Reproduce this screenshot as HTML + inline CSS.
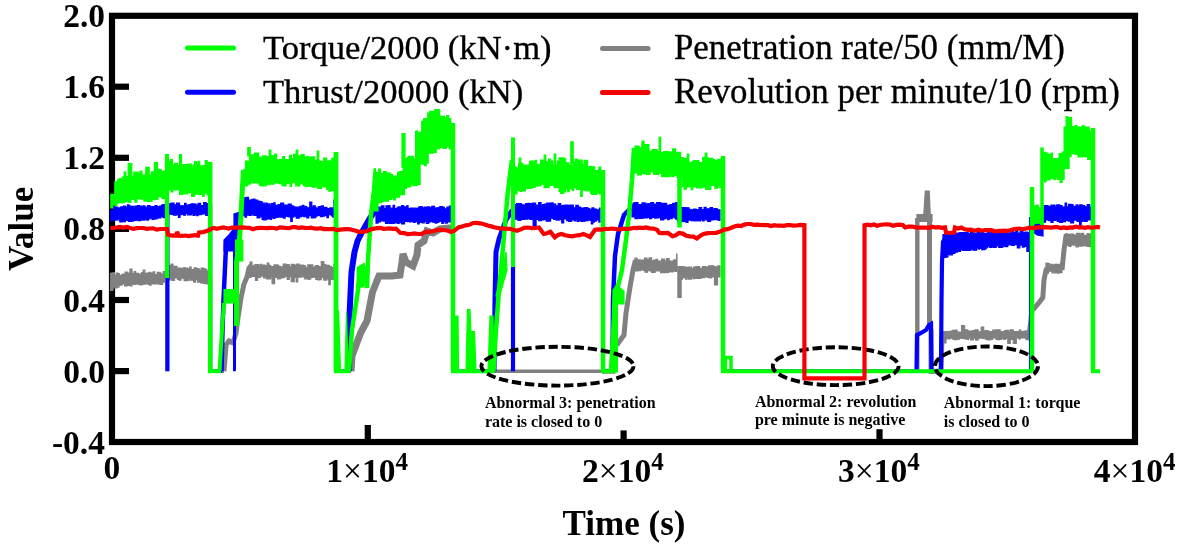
<!DOCTYPE html>
<html><head><meta charset="utf-8"><style>
html,body{margin:0;padding:0;background:#fff;width:1180px;height:546px;overflow:hidden}
svg{position:absolute;left:0;top:0;display:block;will-change:transform}
text{font-family:"Liberation Serif",serif;fill:#000}
.tk{font-weight:bold;font-size:33.5px}
.tm{font-weight:normal}
.sup{font-size:25px}
.lg{font-size:34.6px;stroke:#000;stroke-width:0.35px}
.an{font-weight:bold;font-size:16px}
.ti{font-weight:bold;font-size:35px}
</style></head><body>
<svg width="1180" height="546" viewBox="0 0 1180 546">
<rect width="1180" height="546" fill="#fff"/>

<rect x="112" y="15.8" width="1023" height="426.2" fill="none" stroke="#000" stroke-width="6.2"/>

<line x1="112" y1="86.7" x2="129" y2="86.7" stroke="#000" stroke-width="6.2"/>
<line x1="112" y1="157.8" x2="129" y2="157.8" stroke="#000" stroke-width="6.2"/>
<line x1="112" y1="228.9" x2="129" y2="228.9" stroke="#000" stroke-width="6.2"/>
<line x1="112" y1="300.0" x2="129" y2="300.0" stroke="#000" stroke-width="6.2"/>
<line x1="112" y1="371.1" x2="129" y2="371.1" stroke="#000" stroke-width="6.2"/>
<line x1="367.8" y1="442" x2="367.8" y2="425" stroke="#000" stroke-width="6.2"/>
<line x1="623.6" y1="442" x2="623.6" y2="430.4" stroke="#000" stroke-width="6.2"/>
<line x1="879.5" y1="442" x2="879.5" y2="429.2" stroke="#000" stroke-width="6.2"/>

<polygon points="110.5,273.4 112.0,273.4 112.0,272.8 114.5,272.8 114.5,275.2 116.5,275.2 116.5,273.1 118.0,273.1 118.0,273.6 119.5,273.6 119.6,275.5 121.6,275.5 121.6,274.5 123.1,274.5 123.1,274.1 125.1,274.1 125.1,272.0 127.6,272.0 127.6,273.0 130.1,273.0 130.1,273.2 131.6,273.2 131.6,273.3 134.1,273.3 134.1,271.6 135.6,271.6 135.6,273.4 138.6,273.4 138.6,274.0 141.6,274.0 141.6,272.5 143.6,272.5 143.7,273.7 146.2,273.7 146.2,273.1 149.2,273.1 149.2,272.3 150.7,272.3 150.7,273.0 153.2,273.0 153.2,271.8 154.7,271.8 154.7,274.6 157.2,274.6 157.2,272.4 160.2,272.4 160.2,273.3 161.7,273.3 161.7,274.6 163.2,274.6 163.2,271.5 166.0,271.5 166.0,283.0 165.7,283.0 165.7,282.2 162.7,282.2 162.7,284.5 159.7,284.5 159.7,283.8 157.2,283.8 157.2,283.9 155.2,283.9 155.2,284.0 152.7,284.0 152.7,283.5 151.2,283.5 151.2,285.2 149.7,285.2 149.7,284.4 148.2,284.4 148.1,283.9 145.1,283.9 145.1,284.2 142.1,284.2 142.1,284.8 140.6,284.8 140.6,284.7 138.6,284.7 138.6,283.9 136.1,283.9 136.1,284.5 133.6,284.5 133.6,283.7 132.1,283.7 132.1,285.8 130.1,285.8 130.1,285.3 127.1,285.3 127.1,285.8 124.6,285.8 124.6,283.9 122.1,283.9 122.0,285.2 119.0,285.2 119.0,287.2 117.0,287.2 117.0,287.8 115.0,287.8 115.0,287.8 113.0,287.8 113.0,290.5 110.5,290.5" fill="#808080" stroke="#808080" stroke-width="1.2" stroke-linejoin="miter"/>
<polygon points="130.0,275.0 130.0,269.0 132.0,269.0 132.0,275.0" fill="#808080" stroke="#808080" stroke-width="1.2" stroke-linejoin="miter"/>
<polygon points="143.2,275.0 143.2,270.0 144.8,270.0 144.8,275.0" fill="#808080" stroke="#808080" stroke-width="1.2" stroke-linejoin="miter"/>
<polyline points="167.0,280.0 167.0,371.2" fill="none" stroke="#808080" stroke-width="4" stroke-linejoin="miter" stroke-miterlimit="2" stroke-linecap="butt"/>
<polygon points="169.0,265.8 171.5,265.8 171.5,267.1 173.0,267.1 173.0,266.3 175.5,266.3 175.5,266.3 177.0,266.3 177.0,268.2 178.5,268.2 178.5,268.0 181.0,268.0 181.1,268.8 183.1,268.8 183.1,267.8 185.6,267.8 185.6,268.2 187.6,268.2 187.6,268.8 189.6,268.8 189.6,267.1 191.1,267.1 191.1,269.6 194.1,269.6 194.1,267.8 196.6,267.8 196.6,268.6 199.1,268.6 199.1,270.4 201.1,270.4 201.1,268.1 203.6,268.1 203.7,268.7 205.2,268.7 205.2,269.7 206.7,269.7 206.7,271.0 208.0,271.0 208.0,283.8 206.1,283.8 206.1,283.5 203.1,283.5 203.1,282.9 200.6,282.9 200.6,282.1 197.6,282.1 197.6,279.6 195.6,279.6 195.6,282.1 193.6,282.1 193.6,280.2 190.6,280.2 190.6,278.5 189.1,278.5 189.1,280.3 187.1,280.3 187.1,280.6 184.1,280.6 184.0,278.2 181.0,278.2 181.0,280.2 179.0,280.2 179.0,279.3 177.5,279.3 177.5,278.0 174.5,278.0 174.5,280.3 172.0,280.3 172.0,279.8 169.0,279.8" fill="#808080" stroke="#808080" stroke-width="1.2" stroke-linejoin="miter"/>
<polygon points="171.0,269.1 171.0,264.0 173.0,264.0 173.0,269.1" fill="#808080" stroke="#808080" stroke-width="1.2" stroke-linejoin="miter"/>
<polyline points="210.2,278.0 210.2,371.2" fill="none" stroke="#808080" stroke-width="4" stroke-linejoin="miter" stroke-miterlimit="2" stroke-linecap="butt"/>
<polyline points="210.0,371.2 224.0,371.2" fill="none" stroke="#808080" stroke-width="3.5" stroke-linejoin="miter" stroke-miterlimit="2" stroke-linecap="butt"/>
<polyline points="224.0,371.2 226.0,345.0 229.0,341.0 233.0,343.0 236.0,333.0 238.0,318.0 241.0,298.0 244.0,284.0 247.0,277.0 249.0,268.0 251.0,266.0" fill="none" stroke="#808080" stroke-width="5" stroke-linejoin="miter" stroke-miterlimit="2" stroke-linecap="butt"/>
<polygon points="249.0,265.1 250.5,265.1 250.5,266.3 252.0,266.3 252.0,266.0 254.0,266.0 254.0,265.0 255.5,265.0 255.5,264.5 258.5,264.5 258.5,266.1 260.0,266.1 260.1,264.3 261.6,264.3 261.6,265.2 263.1,265.2 263.1,265.0 265.1,265.0 265.1,265.9 268.1,265.9 268.1,265.3 270.6,265.3 270.6,266.7 272.6,266.7 272.6,266.5 274.1,266.5 274.1,264.9 276.1,264.9 276.1,265.1 278.6,265.1 278.6,266.4 280.6,266.4 280.7,266.9 283.2,266.9 283.2,264.2 286.2,264.2 286.2,264.5 289.2,264.5 289.2,266.8 291.2,266.8 291.2,264.3 294.2,264.3 294.2,265.0 296.7,265.0 296.7,264.1 299.2,264.1 299.2,265.8 300.7,265.8 300.7,265.2 303.2,265.2 303.2,265.7 305.2,265.7 305.3,267.3 307.8,267.3 307.8,264.9 309.8,264.9 309.8,264.9 312.8,264.9 312.8,267.0 315.3,267.0 315.3,265.5 318.3,265.5 318.3,266.5 319.8,266.5 319.8,266.9 321.3,266.9 321.3,261.6 323.8,261.6 323.8,264.4 325.3,264.4 325.3,265.1 326.8,265.1 326.9,265.4 329.4,265.4 329.4,266.4 331.4,266.4 331.4,267.5 333.9,267.5 333.9,264.4 334.0,264.4 334.0,278.2 333.4,278.2 333.3,279.4 330.3,279.4 330.3,284.6 328.8,284.6 328.8,279.0 326.8,279.0 326.8,280.1 323.8,280.1 323.8,277.5 321.3,277.5 321.3,279.6 319.3,279.6 319.3,279.9 317.8,279.9 317.8,279.3 315.8,279.3 315.8,277.1 312.8,277.1 312.8,277.4 310.8,277.4 310.7,279.2 307.7,279.2 307.7,278.8 304.7,278.8 304.7,277.0 302.7,277.0 302.7,276.8 300.7,276.8 300.7,277.1 297.7,277.1 297.7,281.8 296.2,281.8 296.2,277.4 294.2,277.4 294.2,281.7 291.2,281.7 291.2,276.6 289.2,276.6 289.2,279.3 287.2,279.3 287.1,276.4 284.6,276.4 284.6,277.7 281.6,277.7 281.6,278.1 280.1,278.1 280.1,278.8 277.6,278.8 277.6,277.4 274.6,277.4 274.6,283.7 272.1,283.7 272.1,277.2 270.6,277.2 270.6,278.9 268.6,278.9 268.6,278.8 266.6,278.8 266.6,277.8 263.6,277.8 263.5,276.1 260.5,276.1 260.5,277.3 257.5,277.3 257.5,280.4 255.5,280.4 255.5,276.4 253.0,276.4 253.0,276.4 251.0,276.4 251.0,277.4 249.0,277.4" fill="#808080" stroke="#808080" stroke-width="1.2" stroke-linejoin="miter"/>
<polygon points="250.0,267.0 250.0,262.0 252.0,262.0 252.0,267.0" fill="#808080" stroke="#808080" stroke-width="1.2" stroke-linejoin="miter"/>
<polygon points="267.2,267.2 267.2,263.0 268.8,263.0 268.8,267.2" fill="#808080" stroke="#808080" stroke-width="1.2" stroke-linejoin="miter"/>
<polyline points="336.0,270.0 336.0,371.2" fill="none" stroke="#808080" stroke-width="4" stroke-linejoin="miter" stroke-miterlimit="2" stroke-linecap="butt"/>
<polyline points="335.0,371.2 351.0,371.2" fill="none" stroke="#808080" stroke-width="3.5" stroke-linejoin="miter" stroke-miterlimit="2" stroke-linecap="butt"/>
<polyline points="351.0,371.2 352.0,356.0 356.0,345.0 361.0,332.0 367.0,321.0 370.0,305.0 372.5,292.0 376.5,282.0 379.0,276.0 392.0,276.0 400.0,275.0 402.0,262.0 403.0,254.0 406.0,262.0 413.0,266.0 417.0,255.0 418.0,245.0 424.0,241.0 427.0,231.0 433.0,233.0 440.0,229.0 449.0,228.0 452.0,228.0" fill="none" stroke="#808080" stroke-width="7" stroke-linejoin="miter" stroke-miterlimit="2" stroke-linecap="butt"/>
<polyline points="453.0,228.0 453.0,371.2" fill="none" stroke="#808080" stroke-width="4" stroke-linejoin="miter" stroke-miterlimit="2" stroke-linecap="butt"/>
<polyline points="452.0,371.2 602.0,371.2" fill="none" stroke="#808080" stroke-width="3.5" stroke-linejoin="miter" stroke-miterlimit="2" stroke-linecap="butt"/>
<polyline points="602.0,371.2 613.0,371.2 614.0,346.0 617.5,344.0 624.0,335.0 626.0,313.0 630.0,287.0 633.0,270.0 635.0,262.0 638.0,261.0" fill="none" stroke="#808080" stroke-width="5" stroke-linejoin="miter" stroke-miterlimit="2" stroke-linecap="butt"/>
<polygon points="635.0,258.2 637.0,258.2 637.0,259.8 640.0,259.8 640.0,260.2 642.5,260.2 642.5,260.0 644.5,260.0 644.5,258.0 647.0,258.0 647.0,259.7 649.0,259.7 649.1,257.9 651.6,257.9 651.6,260.8 653.6,260.8 653.6,260.0 656.1,260.0 656.1,259.4 657.6,259.4 657.6,261.0 660.1,261.0 660.1,261.0 661.6,261.0 661.6,259.0 664.6,259.0 664.6,261.2 666.6,261.2 666.6,258.5 669.1,258.5 669.1,261.2 671.6,261.2 671.7,261.0 673.7,261.0 673.7,259.9 676.7,259.9 676.7,254.0 677.0,254.0 677.0,271.5 675.7,271.5 675.7,271.1 673.2,271.1 673.1,271.8 671.1,271.8 671.1,271.7 668.6,271.7 668.6,272.3 665.6,272.3 665.6,272.7 663.6,272.7 663.6,272.6 660.6,272.6 660.6,270.8 657.6,270.8 657.6,270.9 655.1,270.9 655.1,272.3 653.1,272.3 653.1,272.3 651.6,272.3 651.6,271.0 649.1,271.0 649.0,270.2 647.5,270.2 647.5,272.2 645.0,272.2 645.0,270.3 643.5,270.3 643.5,269.9 640.5,269.9 640.5,270.7 638.0,270.7 638.0,270.8 635.0,270.8" fill="#808080" stroke="#808080" stroke-width="1.2" stroke-linejoin="miter"/>
<polyline points="679.5,266.0 679.5,298.0" fill="none" stroke="#808080" stroke-width="4.5" stroke-linejoin="miter" stroke-miterlimit="2" stroke-linecap="butt"/>
<polygon points="681.0,266.7 684.0,266.7 684.0,267.2 686.0,267.2 686.0,267.4 689.0,267.4 689.0,267.2 691.5,267.2 691.5,268.5 693.5,268.5 693.5,267.1 695.5,267.1 695.6,266.5 697.6,266.5 697.6,266.6 699.6,266.6 699.6,268.2 702.6,268.2 702.6,266.6 704.6,266.6 704.6,266.6 706.1,266.6 706.1,267.0 708.6,267.0 708.6,265.9 710.6,265.9 710.6,265.8 713.6,265.8 713.6,266.7 716.1,266.7 716.1,268.0 717.6,268.0 717.7,265.9 720.0,265.9 720.0,277.0 717.2,277.0 717.2,276.9 714.2,276.9 714.1,276.8 711.6,276.8 711.6,277.9 709.6,277.9 709.6,277.4 707.6,277.4 707.6,276.8 704.6,276.8 704.6,277.7 703.1,277.7 703.1,277.5 701.1,277.5 701.1,278.5 699.6,278.5 699.6,278.3 696.6,278.3 696.6,278.4 694.6,278.4 694.6,278.7 693.1,278.7 693.0,277.0 691.5,277.0 691.5,279.1 688.5,279.1 688.5,277.3 687.0,277.3 687.0,279.2 685.5,279.2 685.5,277.7 682.5,277.7 682.5,279.2 681.0,279.2" fill="#808080" stroke="#808080" stroke-width="1.2" stroke-linejoin="miter"/>
<polygon points="714.5,276.0 714.5,285.0 717.5,285.0 717.5,276.0" fill="#808080" stroke="#808080" stroke-width="1.2" stroke-linejoin="miter"/>
<polyline points="723.0,270.0 723.0,371.2" fill="none" stroke="#808080" stroke-width="4" stroke-linejoin="miter" stroke-miterlimit="2" stroke-linecap="butt"/>
<polyline points="721.0,371.2 918.0,371.2" fill="none" stroke="#808080" stroke-width="3.5" stroke-linejoin="miter" stroke-miterlimit="2" stroke-linecap="butt"/>
<polygon points="923.7,216.0 925.3,191.0 929.2,191.0 930.3,216.0" fill="#808080" stroke="#808080" stroke-width="1.2" stroke-linejoin="miter"/>
<polygon points="917.0,214.7 932.0,214.7 932.0,221.3 917.0,221.3" fill="#808080" stroke="#808080" stroke-width="1.2" stroke-linejoin="miter"/>
<polyline points="917.3,218.0 917.3,371.2" fill="none" stroke="#808080" stroke-width="4.4" stroke-linejoin="miter" stroke-miterlimit="2" stroke-linecap="butt"/>
<polyline points="929.5,218.0 929.5,324.0 931.0,330.0 931.0,371.2 941.0,371.2 942.0,336.0" fill="none" stroke="#808080" stroke-width="5" stroke-linejoin="miter" stroke-miterlimit="2" stroke-linecap="butt"/>
<polygon points="942.0,332.1 943.5,332.1 943.5,331.5 946.0,331.5 946.0,331.5 948.5,331.5 948.5,331.6 950.5,331.6 950.5,331.0 952.5,331.0 952.5,330.3 955.0,330.3 955.1,330.0 957.1,330.0 957.1,332.0 958.6,332.0 958.6,332.1 961.6,332.1 961.6,325.7 964.6,325.7 964.6,329.9 967.6,329.9 967.6,330.9 970.1,330.9 970.1,331.6 972.1,331.6 972.1,330.6 975.1,330.6 975.1,329.8 978.1,329.8 978.1,331.8 981.1,331.8 981.2,327.0 983.7,327.0 983.7,330.8 985.7,330.8 985.7,330.7 988.2,330.7 988.2,331.8 989.7,331.8 989.7,331.5 992.7,331.5 992.7,330.2 995.7,330.2 995.7,329.8 998.7,329.8 998.7,329.9 1000.2,329.9 1000.2,331.8 1002.2,331.8 1002.2,331.6 1004.7,331.6 1004.8,330.7 1006.3,330.7 1006.3,330.4 1008.8,330.4 1008.8,332.1 1010.3,332.1 1010.3,329.8 1013.3,329.8 1013.3,331.5 1016.3,331.5 1016.3,331.7 1019.3,331.7 1019.3,330.1 1020.8,330.1 1020.8,331.8 1022.8,331.8 1022.8,331.3 1025.3,331.3 1025.3,330.9 1026.8,330.9 1026.9,331.0 1028.9,331.0 1028.9,330.4 1029.0,330.4 1029.0,338.5 1028.4,338.5 1028.4,339.6 1025.9,339.6 1025.9,338.0 1023.4,338.0 1023.4,337.9 1020.4,337.9 1020.4,338.9 1018.9,338.9 1018.8,338.0 1016.3,338.0 1016.3,343.4 1013.3,343.4 1013.3,339.4 1010.3,339.4 1010.3,343.5 1007.8,343.5 1007.8,338.5 1005.3,338.5 1005.3,339.4 1003.8,339.4 1003.8,338.7 1001.3,338.7 1001.3,339.3 999.3,339.3 999.3,339.7 997.3,339.7 997.3,339.1 995.8,339.1 995.7,337.9 992.7,337.9 992.7,339.4 990.2,339.4 990.2,339.8 987.2,339.8 987.2,339.2 985.2,339.2 985.2,337.9 983.7,337.9 983.7,338.3 981.7,338.3 981.7,338.0 979.2,338.0 979.2,338.9 977.7,338.9 977.7,340.1 975.7,340.1 975.7,338.2 973.7,338.2 973.6,339.9 972.1,339.9 972.1,339.9 970.6,339.9 970.6,337.8 968.6,337.8 968.6,339.4 967.1,339.4 967.1,339.0 965.6,339.0 965.6,338.6 963.6,338.6 963.6,338.3 961.6,338.3 961.6,338.2 959.6,338.2 959.6,339.2 957.1,339.2 957.1,339.7 954.6,339.7 954.5,339.3 953.0,339.3 953.0,338.2 950.0,338.2 950.0,338.8 947.0,338.8 947.0,338.4 945.5,338.4 945.5,340.2 944.0,340.2 944.0,339.0 942.0,339.0" fill="#808080" stroke="#808080" stroke-width="1.2" stroke-linejoin="miter"/>
<polygon points="944.0,337.0 944.0,343.0 946.0,343.0 946.0,337.0" fill="#808080" stroke="#808080" stroke-width="1.2" stroke-linejoin="miter"/>
<polyline points="1029.0,335.0 1031.0,320.0 1032.0,310.0 1034.0,308.6 1039.5,302.0 1042.8,297.6 1044.0,280.0 1046.0,270.0 1047.0,268.0" fill="none" stroke="#808080" stroke-width="5" stroke-linejoin="miter" stroke-miterlimit="2" stroke-linecap="butt"/>
<polygon points="1046.0,263.0 1048.0,263.0 1048.0,263.5 1049.5,263.5 1049.5,265.2 1051.0,265.2 1051.0,264.3 1052.5,264.3 1052.5,265.0 1054.5,265.0 1054.5,264.4 1057.5,264.4 1057.6,264.3 1060.6,264.3 1060.6,263.2 1062.0,263.2 1062.0,272.7 1059.6,272.7 1059.5,273.1 1057.5,273.1 1057.5,272.8 1055.0,272.8 1055.0,272.8 1052.0,272.8 1052.0,271.1 1050.5,271.1 1050.5,271.2 1048.5,271.2 1048.5,273.1 1046.0,273.1" fill="#808080" stroke="#808080" stroke-width="1.2" stroke-linejoin="miter"/>
<polyline points="1062.0,270.0 1064.0,250.0 1066.0,236.0 1068.0,235.0" fill="none" stroke="#808080" stroke-width="5" stroke-linejoin="miter" stroke-miterlimit="2" stroke-linecap="butt"/>
<polygon points="1067.0,234.0 1068.5,234.0 1068.5,234.4 1070.5,234.4 1070.5,234.0 1073.5,234.0 1073.5,235.1 1076.5,235.1 1076.5,233.4 1079.5,233.4 1079.5,234.2 1081.0,234.2 1081.1,233.4 1083.6,233.4 1083.6,235.4 1085.1,235.4 1085.1,235.4 1087.1,235.4 1087.1,233.7 1088.6,233.7 1088.6,234.1 1091.0,234.1 1091.0,246.3 1090.6,246.3 1090.6,246.7 1089.1,246.7 1089.1,246.4 1087.1,246.4 1087.1,245.8 1084.6,245.8 1084.6,245.5 1082.6,245.5 1082.6,246.2 1080.6,246.2 1080.5,246.0 1078.5,246.0 1078.5,247.0 1076.0,247.0 1076.0,245.1 1073.5,245.1 1073.5,244.9 1071.0,244.9 1071.0,246.5 1069.0,246.5 1069.0,245.5 1067.0,245.5" fill="#808080" stroke="#808080" stroke-width="1.2" stroke-linejoin="miter"/>
<polyline points="1093.0,236.0 1093.0,371.2" fill="none" stroke="#808080" stroke-width="4" stroke-linejoin="miter" stroke-miterlimit="2" stroke-linecap="butt"/>
<polygon points="110.8,210.3 113.3,210.3 113.3,205.0 114.8,205.0 114.8,207.1 117.8,207.1 117.8,207.9 120.8,207.9 120.8,206.8 123.3,206.8 123.4,206.0 125.4,206.0 125.4,207.0 127.4,207.0 127.4,204.9 128.9,204.9 128.9,205.9 130.4,205.9 130.4,206.3 133.4,206.3 133.4,207.2 134.9,207.2 134.9,206.0 137.4,206.0 137.4,205.5 139.4,205.5 139.4,206.0 141.4,206.0 141.4,207.4 142.9,207.4 142.9,205.9 144.9,205.9 145.0,207.2 147.5,207.2 147.5,205.5 150.0,205.5 150.0,206.5 153.0,206.5 153.0,206.7 155.0,206.7 155.0,205.7 157.0,205.7 157.0,206.6 159.5,206.6 159.5,206.0 161.5,206.0 161.5,205.1 163.0,205.1 163.0,204.5 165.0,204.5 165.0,204.8 166.0,204.8 166.0,217.0 164.5,217.0 164.5,217.6 163.0,217.6 163.0,216.5 161.0,216.5 161.0,217.9 158.5,217.9 158.5,218.1 157.0,218.1 157.0,218.9 154.0,218.9 154.0,219.5 152.0,219.5 152.0,217.9 150.0,217.9 150.0,218.8 148.5,218.8 148.4,220.1 146.9,220.1 146.9,219.5 144.9,219.5 144.9,220.2 143.4,220.2 143.4,219.9 140.9,219.9 140.9,220.6 137.9,220.6 137.9,219.6 136.4,219.6 136.4,220.5 133.4,220.5 133.4,221.1 131.4,221.1 131.4,221.4 128.4,221.4 128.4,220.3 125.4,220.3 125.4,221.7 122.4,221.7 122.3,221.9 119.8,221.9 119.8,219.8 116.8,219.8 116.8,220.1 115.3,220.1 115.3,219.6 112.8,219.6 112.8,220.9 110.8,220.9" fill="#0000ff" stroke="#0000ff" stroke-width="1.2" stroke-linejoin="miter"/>
<polyline points="167.5,206.0 167.5,371.2" fill="none" stroke="#0000ff" stroke-width="4" stroke-linejoin="miter" stroke-miterlimit="2" stroke-linecap="butt"/>
<polygon points="169.5,203.8 171.0,203.8 171.0,203.0 174.0,203.0 174.0,204.8 176.5,204.8 176.5,203.2 179.5,203.2 179.5,205.7 181.5,205.7 181.5,205.8 184.5,205.8 184.6,203.4 186.1,203.4 186.1,205.2 189.1,205.2 189.1,204.7 191.1,204.7 191.1,203.8 194.1,203.8 194.1,204.1 196.1,204.1 196.1,205.0 198.1,205.0 198.1,203.4 200.6,203.4 200.6,205.5 203.6,205.5 203.6,202.6 206.1,202.6 206.1,203.6 208.0,203.6 208.0,215.4 205.7,215.4 205.7,213.8 202.7,213.8 202.7,214.1 201.2,214.1 201.1,214.7 198.1,214.7 198.1,215.7 196.6,215.7 196.6,214.8 194.6,214.8 194.6,215.3 193.1,215.3 193.1,213.7 191.6,213.7 191.6,215.0 189.1,215.0 189.1,214.8 187.6,214.8 187.6,213.5 185.6,213.5 185.6,215.2 183.6,215.2 183.6,214.5 181.6,214.5 181.5,214.7 180.0,214.7 180.0,217.3 178.5,217.3 178.5,215.0 176.0,215.0 176.0,215.2 173.5,215.2 173.5,214.5 171.0,214.5 171.0,213.9 169.5,213.9" fill="#0000ff" stroke="#0000ff" stroke-width="1.2" stroke-linejoin="miter"/>
<polyline points="210.2,204.0 210.2,371.2" fill="none" stroke="#0000ff" stroke-width="4" stroke-linejoin="miter" stroke-miterlimit="2" stroke-linecap="butt"/>
<polyline points="209.0,371.2 222.0,371.2" fill="none" stroke="#0000ff" stroke-width="3.5" stroke-linejoin="miter" stroke-miterlimit="2" stroke-linecap="butt"/>
<polyline points="221.5,371.2 222.5,330.0 223.5,300.0 225.8,251.0 226.0,244.0" fill="none" stroke="#0000ff" stroke-width="4.5" stroke-linejoin="miter" stroke-miterlimit="2" stroke-linecap="butt"/>
<polygon points="224.0,251.0 224.0,240.0 228.0,236.0 232.0,231.0 234.0,226.0 234.0,214.0 240.0,212.0 244.0,200.0 244.0,206.0 239.6,226.0 236.0,240.0 236.0,251.0" fill="#0000ff" stroke="#0000ff" stroke-width="1.2" stroke-linejoin="miter"/>
<polyline points="234.5,371.2 234.5,282.0 234.5,240.0" fill="none" stroke="#0000ff" stroke-width="3" stroke-linejoin="miter" stroke-miterlimit="2" stroke-linecap="butt"/>
<polygon points="243.0,198.7 244.5,198.7 244.5,197.9 246.0,197.9 246.0,197.3 248.5,197.3 248.5,200.1 251.5,200.1 251.5,199.5 253.0,199.5 253.0,199.0 255.0,199.0 255.1,200.1 257.6,200.1 257.6,201.0 259.6,201.0 259.6,201.5 262.1,201.5 262.1,203.2 264.6,203.2 264.6,203.2 267.1,203.2 267.1,203.9 269.6,203.9 269.6,205.6 271.1,205.6 271.1,203.5 273.6,203.5 273.6,202.9 275.1,202.9 275.1,205.3 278.1,205.3 278.2,204.6 280.7,204.6 280.7,203.2 283.7,203.2 283.7,205.1 286.7,205.1 286.7,205.3 288.2,205.3 288.2,204.0 291.2,204.0 291.2,205.8 293.2,205.8 293.2,206.8 294.7,206.8 294.7,207.1 297.2,207.1 297.2,207.2 299.7,207.2 299.7,206.4 302.2,206.4 302.3,205.3 303.8,205.3 303.8,206.3 305.3,206.3 305.3,206.7 306.8,206.7 306.8,207.8 309.8,207.8 309.8,202.0 311.8,202.0 311.8,207.1 313.3,207.1 313.3,205.8 315.3,205.8 315.3,207.8 316.8,207.8 316.8,208.0 318.3,208.0 318.3,206.5 321.3,206.5 321.4,205.9 323.4,205.9 323.4,207.5 324.9,207.5 324.9,207.3 326.9,207.3 326.9,208.7 329.9,208.7 329.9,207.9 332.4,207.9 332.4,209.4 333.9,209.4 333.9,200.2 334.0,200.2 334.0,217.1 332.9,217.1 332.9,216.0 331.4,216.0 331.4,214.7 328.4,214.7 328.4,217.6 326.9,217.6 326.9,215.5 324.9,215.5 324.8,216.1 322.8,216.1 322.8,216.7 320.3,216.7 320.3,215.4 317.3,215.4 317.3,216.2 315.8,216.2 315.8,217.6 314.3,217.6 314.3,217.9 311.3,217.9 311.3,215.6 308.8,215.6 308.8,217.8 306.8,217.8 306.8,216.6 303.8,216.6 303.8,216.1 301.3,216.1 301.2,217.0 299.2,217.0 299.2,218.2 296.2,218.2 296.2,216.2 293.7,216.2 293.7,217.1 292.2,217.1 292.2,221.4 290.7,221.4 290.7,216.9 288.2,216.9 288.2,216.5 285.2,216.5 285.2,218.1 283.2,218.1 283.2,217.1 280.2,217.1 280.2,217.1 277.2,217.1 277.1,217.4 275.1,217.4 275.1,218.4 273.6,218.4 273.6,217.8 271.6,217.8 271.6,219.4 270.1,219.4 270.1,218.3 268.1,218.3 268.1,219.1 266.1,219.1 266.1,219.8 263.6,219.8 263.6,219.4 262.1,219.4 262.1,216.8 259.6,216.8 259.6,217.8 257.1,217.8 257.0,215.3 254.0,215.3 254.0,214.8 251.0,214.8 251.0,215.3 249.5,215.3 249.5,215.1 246.5,215.1 246.5,217.2 245.0,217.2 245.0,215.7 243.0,215.7" fill="#0000ff" stroke="#0000ff" stroke-width="1.2" stroke-linejoin="miter"/>
<polyline points="336.0,208.0 336.0,371.2" fill="none" stroke="#0000ff" stroke-width="4" stroke-linejoin="miter" stroke-miterlimit="2" stroke-linecap="butt"/>
<polyline points="335.0,371.2 349.0,371.2" fill="none" stroke="#0000ff" stroke-width="3.5" stroke-linejoin="miter" stroke-miterlimit="2" stroke-linecap="butt"/>
<polyline points="349.0,371.2 349.5,315.0 351.5,272.0 354.5,252.0 357.5,241.0 361.5,233.0 366.0,225.0 370.0,218.0 375.0,211.0 378.0,209.0" fill="none" stroke="#0000ff" stroke-width="6" stroke-linejoin="miter" stroke-miterlimit="2" stroke-linecap="butt"/>
<polygon points="376.0,207.7 378.5,207.7 378.5,207.2 381.5,207.2 381.5,205.9 384.0,205.9 384.0,208.6 386.0,208.6 386.0,205.9 388.5,205.9 388.5,205.5 390.0,205.5 390.1,208.2 393.1,208.2 393.1,205.4 394.6,205.4 394.6,208.5 397.1,208.5 397.1,207.3 398.6,207.3 398.6,206.9 401.6,206.9 401.6,205.7 403.6,205.7 403.6,206.8 405.1,206.8 405.1,206.9 406.6,206.9 406.6,205.8 408.1,205.8 408.1,208.5 410.1,208.5 410.2,208.0 413.2,208.0 413.2,208.2 416.2,208.2 416.2,208.7 418.2,208.7 418.2,207.0 420.2,207.0 420.2,206.5 422.2,206.5 422.2,207.9 424.2,207.9 424.2,207.0 427.2,207.0 427.2,206.9 429.7,206.9 429.7,207.5 431.7,207.5 431.7,206.4 434.7,206.4 434.8,208.7 436.3,208.7 436.3,207.8 438.3,207.8 438.3,207.6 439.8,207.6 439.8,206.5 442.3,206.5 442.3,207.2 444.3,207.2 444.3,208.9 446.8,208.9 446.8,207.2 449.3,207.2 449.3,206.2 450.5,206.2 450.5,221.8 450.3,221.8 450.3,221.8 447.3,221.8 447.3,223.1 445.3,223.1 445.3,221.7 443.3,221.7 443.3,223.3 441.8,223.3 441.8,221.4 438.8,221.4 438.8,222.5 436.8,222.5 436.8,223.1 435.3,223.1 435.3,222.2 432.3,222.2 432.2,221.3 430.2,221.3 430.2,222.1 428.7,222.1 428.7,223.4 426.2,223.4 426.2,221.3 424.2,221.3 424.2,222.8 422.2,222.8 422.2,222.3 419.2,222.3 419.2,224.0 417.7,224.0 417.7,221.7 415.2,221.7 415.2,222.5 413.7,222.5 413.7,221.4 412.2,221.4 412.1,221.9 409.6,221.9 409.6,221.6 407.6,221.6 407.6,221.4 404.6,221.4 404.6,224.0 401.6,224.0 401.6,222.7 399.1,222.7 399.1,223.3 397.6,223.3 397.6,222.9 396.1,222.9 396.1,222.9 394.1,222.9 394.1,223.4 392.1,223.4 392.1,223.5 389.1,223.5 389.0,223.1 387.5,223.1 387.5,223.5 385.5,223.5 385.5,221.2 383.5,221.2 383.5,221.0 380.5,221.0 380.5,221.9 378.0,221.9 378.0,223.1 376.0,223.1" fill="#0000ff" stroke="#0000ff" stroke-width="1.2" stroke-linejoin="miter"/>
<polyline points="453.0,207.0 453.0,371.2" fill="none" stroke="#0000ff" stroke-width="4" stroke-linejoin="miter" stroke-miterlimit="2" stroke-linecap="butt"/>
<polyline points="451.0,371.2 494.0,371.2" fill="none" stroke="#0000ff" stroke-width="3.5" stroke-linejoin="miter" stroke-miterlimit="2" stroke-linecap="butt"/>
<polyline points="494.0,371.2 495.0,300.0 496.0,252.0 499.0,239.0 502.0,231.0 506.0,220.0 511.0,212.0 516.0,207.0" fill="none" stroke="#0000ff" stroke-width="5" stroke-linejoin="miter" stroke-miterlimit="2" stroke-linecap="butt"/>
<polyline points="513.0,207.0 513.0,371.2" fill="none" stroke="#0000ff" stroke-width="4.2" stroke-linejoin="miter" stroke-miterlimit="2" stroke-linecap="butt"/>
<polygon points="515.0,204.7 516.5,204.7 516.5,203.7 519.0,203.7 519.0,203.5 521.5,203.5 521.5,204.8 524.0,204.8 524.0,205.2 525.5,205.2 525.5,203.5 528.0,203.5 528.1,203.3 529.6,203.3 529.6,203.7 531.1,203.7 531.1,203.6 532.6,203.6 532.6,203.2 535.6,203.2 535.6,205.2 537.1,205.2 537.1,205.3 538.6,205.3 538.6,202.6 541.1,202.6 541.1,205.8 542.6,205.8 542.6,204.7 544.1,204.7 544.1,204.1 546.6,204.1 546.7,203.0 548.7,203.0 548.7,203.0 551.2,203.0 551.2,202.9 553.2,202.9 553.2,204.2 555.7,204.2 555.7,205.9 558.2,205.9 558.2,203.6 560.7,203.6 560.7,205.8 562.7,205.8 562.7,205.4 565.2,205.4 565.2,205.0 568.2,205.0 568.2,205.4 570.2,205.4 570.3,205.2 573.3,205.2 573.3,207.8 575.8,207.8 575.8,205.3 578.3,205.3 578.3,207.0 580.8,207.0 580.8,208.4 582.3,208.4 582.3,208.2 583.8,208.2 583.8,207.8 585.3,207.8 585.3,207.6 587.8,207.6 587.8,208.6 589.8,208.6 589.8,209.7 591.8,209.7 591.9,207.9 593.9,207.9 593.9,209.0 596.4,209.0 596.4,209.8 599.4,209.8 599.4,208.1 600.0,208.1 600.0,222.1 598.9,222.1 598.8,219.9 596.3,219.9 596.3,221.1 594.3,221.1 594.3,222.1 592.8,222.1 592.8,224.0 591.3,224.0 591.3,220.3 589.8,220.3 589.8,219.4 588.3,219.4 588.3,220.7 586.3,220.7 586.3,221.0 584.3,221.0 584.3,221.5 581.3,221.5 581.3,220.9 578.8,220.9 578.7,221.4 577.2,221.4 577.2,219.4 575.7,219.4 575.7,220.9 574.2,220.9 574.2,220.0 571.7,220.0 571.7,221.4 568.7,221.4 568.7,220.6 566.7,220.6 566.7,218.9 563.7,218.9 563.7,222.8 561.7,222.8 561.7,219.7 559.2,219.7 559.2,220.1 556.2,220.1 556.1,219.3 553.6,219.3 553.6,218.5 550.6,218.5 550.6,221.1 549.1,221.1 549.1,221.2 546.1,221.2 546.1,219.3 544.1,219.3 544.1,220.0 541.6,220.0 541.6,220.7 538.6,220.7 538.6,219.4 536.1,219.4 536.1,225.7 533.1,225.7 533.1,219.3 530.1,219.3 530.0,219.0 527.5,219.0 527.5,219.2 524.5,219.2 524.5,219.3 523.0,219.3 523.0,219.3 521.0,219.3 521.0,220.3 518.0,220.3 518.0,219.2 515.0,219.2" fill="#0000ff" stroke="#0000ff" stroke-width="1.2" stroke-linejoin="miter"/>
<polyline points="603.0,208.0 603.0,371.2" fill="none" stroke="#0000ff" stroke-width="4" stroke-linejoin="miter" stroke-miterlimit="2" stroke-linecap="butt"/>
<polyline points="601.0,371.2 613.0,371.2" fill="none" stroke="#0000ff" stroke-width="3.5" stroke-linejoin="miter" stroke-miterlimit="2" stroke-linecap="butt"/>
<polyline points="612.5,371.2 613.0,300.0 615.0,256.0 618.0,234.0 624.0,215.0 633.0,206.0" fill="none" stroke="#0000ff" stroke-width="4.5" stroke-linejoin="miter" stroke-miterlimit="2" stroke-linecap="butt"/>
<polygon points="632.0,204.2 633.5,204.2 633.5,202.9 635.0,202.9 635.0,202.6 638.0,202.6 638.0,205.0 639.5,205.0 639.5,204.5 642.0,204.5 642.0,202.9 644.5,202.9 644.6,203.0 646.1,203.0 646.1,205.1 647.6,205.1 647.6,203.5 650.6,203.5 650.6,202.6 653.6,202.6 653.6,204.2 656.6,204.2 656.6,202.7 658.6,202.7 658.6,202.6 660.6,202.6 660.6,203.4 663.6,203.4 663.6,203.4 666.6,203.4 666.6,205.4 669.6,205.4 669.7,204.5 672.7,204.5 672.7,203.4 675.7,203.4 675.7,202.6 677.2,202.6 677.2,203.0 677.5,203.0 677.5,219.1 675.7,219.1 675.7,217.9 674.2,217.9 674.2,217.1 672.2,217.1 672.2,218.6 669.2,218.6 669.2,219.6 667.7,219.6 667.6,218.2 665.6,218.2 665.6,218.8 663.6,218.8 663.6,219.8 660.6,219.8 660.6,217.7 658.6,217.7 658.6,217.9 656.6,217.9 656.6,218.1 654.6,218.1 654.6,217.5 651.6,217.5 651.6,218.7 649.6,218.7 649.6,217.3 647.6,217.3 647.6,218.0 645.6,218.0 645.5,217.7 644.0,217.7 644.0,218.2 641.5,218.2 641.5,218.3 639.5,218.3 639.5,218.0 638.0,218.0 638.0,218.7 635.0,218.7 635.0,217.0 632.0,217.0" fill="#0000ff" stroke="#0000ff" stroke-width="1.2" stroke-linejoin="miter"/>
<polygon points="677.5,208.0 679.0,208.0 679.0,207.2 681.5,207.2 681.5,207.6 683.0,207.6 683.0,207.7 686.0,207.7 686.0,207.8 689.0,207.8 689.0,209.3 691.0,209.3 691.1,209.8 693.6,209.8 693.6,209.0 696.1,209.0 696.1,209.7 699.1,209.7 699.1,207.7 701.6,207.7 701.6,209.7 704.1,209.7 704.1,207.3 706.1,207.3 706.1,209.1 707.6,209.1 707.6,208.8 710.1,208.8 710.1,207.5 712.6,207.5 712.6,208.9 714.6,208.9 714.7,208.7 717.2,208.7 717.2,209.8 719.7,209.8 719.7,209.8 720.0,209.8 720.0,220.3 718.2,220.3 718.2,219.7 716.2,219.7 716.2,219.7 713.7,219.7 713.6,220.0 710.6,220.0 710.6,221.4 707.6,221.4 707.6,219.9 705.6,219.9 705.6,219.8 704.1,219.8 704.1,220.9 702.6,220.9 702.6,219.8 700.6,219.8 700.6,220.8 698.1,220.8 698.1,220.6 696.1,220.6 696.1,220.8 694.1,220.8 694.1,220.6 691.1,220.6 691.0,220.1 688.0,220.1 688.0,222.3 686.0,222.3 686.0,221.5 683.0,221.5 683.0,221.7 680.5,221.7 680.5,222.2 679.0,222.2 679.0,222.0 677.5,222.0" fill="#0000ff" stroke="#0000ff" stroke-width="1.2" stroke-linejoin="miter"/>
<polyline points="723.0,208.0 723.0,371.2" fill="none" stroke="#0000ff" stroke-width="4" stroke-linejoin="miter" stroke-miterlimit="2" stroke-linecap="butt"/>
<polyline points="721.0,371.2 916.0,371.2" fill="none" stroke="#0000ff" stroke-width="3.5" stroke-linejoin="miter" stroke-miterlimit="2" stroke-linecap="butt"/>
<polyline points="916.5,371.2 917.0,335.0 921.0,333.0 926.0,330.0 929.0,325.0 931.0,324.0 931.5,371.2 941.0,371.2 941.5,300.0 942.0,262.0 943.0,242.0 946.0,236.0" fill="none" stroke="#0000ff" stroke-width="4.2" stroke-linejoin="miter" stroke-miterlimit="2" stroke-linecap="butt"/>
<polygon points="943.0,234.5 945.0,234.5 945.0,234.2 948.0,234.2 948.0,234.5 950.5,234.5 950.5,232.8 952.0,232.8 952.0,232.9 954.0,232.9 954.0,233.0 955.5,233.0 955.6,233.0 958.1,233.0 958.1,233.2 959.6,233.2 959.6,232.6 962.6,232.6 962.6,232.7 965.1,232.7 965.1,232.7 968.1,232.7 968.1,233.4 970.6,233.4 970.6,232.4 973.1,232.4 973.1,233.6 975.6,233.6 975.6,233.5 977.1,233.5 977.1,232.3 979.1,232.3 979.2,232.8 981.2,232.8 981.2,232.3 983.7,232.3 983.7,233.5 985.7,233.5 985.7,233.3 987.7,233.3 987.7,232.7 990.2,232.7 990.2,233.6 991.7,233.6 991.7,231.9 994.7,231.9 994.7,233.6 997.7,233.6 997.7,232.6 1000.2,232.6 1000.2,232.9 1002.2,232.9 1002.3,233.0 1005.3,233.0 1005.3,232.8 1006.8,232.8 1006.8,233.2 1008.8,233.2 1008.8,232.9 1011.8,232.9 1011.8,231.7 1013.3,231.7 1013.3,232.4 1015.8,232.4 1015.8,231.4 1017.8,231.4 1017.8,233.1 1020.3,233.1 1020.3,231.2 1022.8,231.2 1022.8,232.3 1025.3,232.3 1025.4,232.1 1027.4,232.1 1027.4,233.0 1028.9,233.0 1028.9,232.6 1029.0,232.6 1029.0,246.0 1028.9,246.0 1028.9,251.3 1026.9,251.3 1026.9,246.3 1024.4,246.3 1024.3,247.1 1022.3,247.1 1022.3,245.1 1019.8,245.1 1019.8,247.9 1017.3,247.9 1017.3,244.6 1014.3,244.6 1014.3,245.3 1011.3,245.3 1011.3,244.6 1009.3,244.6 1009.3,244.8 1007.8,244.8 1007.8,246.7 1005.3,246.7 1005.3,246.2 1002.8,246.2 1002.8,247.4 1000.3,247.4 1000.2,247.5 998.7,247.5 998.7,245.8 996.2,245.8 996.2,247.3 993.7,247.3 993.7,247.1 991.7,247.1 991.7,247.4 989.7,247.4 989.7,246.2 987.7,246.2 987.7,247.6 986.2,247.6 986.2,248.8 984.7,248.8 984.7,249.7 981.7,249.7 981.7,248.4 979.7,248.4 979.6,249.1 978.1,249.1 978.1,247.7 976.6,247.7 976.6,250.2 973.6,250.2 973.6,250.0 972.1,250.0 972.1,248.6 970.6,248.6 970.6,250.4 967.6,250.4 967.6,250.4 965.1,250.4 965.1,250.4 962.6,250.4 962.6,249.7 960.6,249.7 960.6,251.3 957.6,251.3 957.5,252.1 955.0,252.1 955.0,253.3 952.5,253.3 952.5,254.8 949.5,254.8 949.5,253.9 948.0,253.9 948.0,256.9 946.0,256.9 946.0,257.3 943.0,257.3" fill="#0000ff" stroke="#0000ff" stroke-width="1.2" stroke-linejoin="miter"/>
<polyline points="1031.0,371.2 1031.0,217.0" fill="none" stroke="#0000ff" stroke-width="4.2" stroke-linejoin="miter" stroke-miterlimit="2" stroke-linecap="butt"/>
<polygon points="1033.0,218.0 1043.0,218.0 1043.0,236.0 1037.0,235.0 1033.0,232.0" fill="#0000ff" stroke="#0000ff" stroke-width="1.2" stroke-linejoin="miter"/>
<polygon points="1043.0,205.9 1045.0,205.9 1045.0,205.5 1048.0,205.5 1048.0,206.3 1051.0,206.3 1051.0,205.2 1052.5,205.2 1052.5,205.1 1055.0,205.1 1055.0,206.9 1056.5,206.9 1056.6,204.9 1059.6,204.9 1059.6,205.5 1062.1,205.5 1062.1,207.0 1065.1,207.0 1065.1,203.0 1066.6,203.0 1066.6,206.8 1068.6,206.8 1068.6,204.3 1071.1,204.3 1071.1,204.7 1073.1,204.7 1073.1,206.7 1074.6,206.7 1074.6,206.4 1076.1,206.4 1076.1,204.9 1078.1,204.9 1078.2,206.6 1079.7,206.6 1079.7,204.9 1082.2,204.9 1082.2,205.6 1084.7,205.6 1084.7,206.8 1087.2,206.8 1087.2,204.5 1089.7,204.5 1089.7,207.1 1091.0,207.1 1091.0,219.8 1088.7,219.8 1088.7,220.0 1087.2,220.0 1087.2,221.4 1084.7,221.4 1084.7,220.5 1083.2,220.5 1083.2,221.4 1081.2,221.4 1081.1,225.4 1079.6,225.4 1079.6,221.3 1077.1,221.3 1077.1,220.1 1075.1,220.1 1075.1,220.1 1073.6,220.1 1073.6,223.0 1070.6,223.0 1070.6,221.1 1068.1,221.1 1068.1,220.5 1065.6,220.5 1065.6,221.7 1062.6,221.7 1062.6,222.5 1059.6,222.5 1059.6,221.3 1057.1,221.3 1057.0,219.7 1055.5,219.7 1055.5,220.4 1053.0,220.4 1053.0,222.3 1051.0,222.3 1051.0,220.7 1048.5,220.7 1048.5,220.0 1045.5,220.0 1045.5,222.2 1043.0,222.2" fill="#0000ff" stroke="#0000ff" stroke-width="1.2" stroke-linejoin="miter"/>
<polyline points="1093.0,206.0 1093.0,371.2" fill="none" stroke="#0000ff" stroke-width="4" stroke-linejoin="miter" stroke-miterlimit="2" stroke-linecap="butt"/>
<polygon points="110.8,194.4 114.8,194.4 114.8,181.6 117.8,181.6 117.8,179.3 119.3,179.3 119.3,178.6 122.3,178.6 122.3,177.1 124.3,177.1 124.4,176.2 125.9,176.2 125.9,176.6 128.9,176.6 128.9,176.3 133.9,176.3 133.9,172.2 138.9,172.2 138.9,173.6 141.9,173.6 141.9,175.6 143.4,175.6 143.4,175.2 148.4,175.2 148.4,175.4 151.4,175.4 151.4,171.8 154.4,171.8 154.4,162.7 157.4,162.7 157.4,169.8 161.4,169.8 161.5,172.1 163.0,172.1 163.0,171.1 165.5,171.1 165.5,197.2 165.0,197.2 165.0,198.4 162.0,198.4 162.0,196.6 158.0,196.6 158.0,199.5 155.0,199.5 154.9,199.7 151.9,199.7 151.9,201.5 146.9,201.5 146.9,201.1 143.9,201.1 143.9,199.1 140.9,199.1 140.9,198.6 136.9,198.6 136.9,202.1 134.9,202.1 134.9,199.3 130.9,199.3 130.9,202.4 127.9,202.4 127.9,199.9 126.4,199.9 126.4,201.4 124.9,201.4 124.9,202.7 120.9,202.7 120.8,202.4 118.8,202.4 118.8,203.1 116.8,203.1 116.8,205.3 114.8,205.3 114.8,204.4 112.8,204.4 112.8,208.0 110.8,208.0" fill="#00ff00" stroke="#00ff00" stroke-width="1.2" stroke-linejoin="miter"/>
<polygon points="128.2,177.6 128.2,163.5 131.8,163.5 131.8,177.6" fill="#00ff00" stroke="#00ff00" stroke-width="1.2" stroke-linejoin="miter"/>
<polygon points="145.8,175.1 145.8,167.4 149.2,167.4 149.2,175.1" fill="#00ff00" stroke="#00ff00" stroke-width="1.2" stroke-linejoin="miter"/>
<polygon points="124.2,179.7 124.2,172.0 125.8,172.0 125.8,179.7" fill="#00ff00" stroke="#00ff00" stroke-width="1.2" stroke-linejoin="miter"/>
<polygon points="140.2,176.2 140.2,171.0 141.8,171.0 141.8,176.2" fill="#00ff00" stroke="#00ff00" stroke-width="1.2" stroke-linejoin="miter"/>
<polygon points="157.2,173.4 157.2,169.0 158.8,169.0 158.8,173.4" fill="#00ff00" stroke="#00ff00" stroke-width="1.2" stroke-linejoin="miter"/>
<polyline points="167.0,154.0 167.0,278.0" fill="none" stroke="#00ff00" stroke-width="4.2" stroke-linejoin="miter" stroke-miterlimit="2" stroke-linecap="butt"/>
<polygon points="169.0,161.3 171.0,161.3 171.0,165.4 172.5,165.4 172.5,165.2 174.5,165.2 174.5,163.4 177.5,163.4 177.5,165.3 179.5,165.3 179.5,154.7 181.5,154.7 181.6,164.6 183.6,164.6 183.6,164.6 187.6,164.6 187.6,164.2 191.6,164.2 191.6,167.0 193.1,167.0 193.1,165.0 194.6,165.0 194.6,161.6 196.6,161.6 196.6,164.6 198.1,164.6 198.1,161.3 199.6,161.3 199.6,165.9 203.6,165.9 203.6,165.6 205.1,165.6 205.2,160.5 207.2,160.5 207.2,162.9 208.7,162.9 208.7,162.7 210.0,162.7 210.0,195.5 209.1,195.5 209.1,195.0 207.1,195.0 207.1,193.2 204.1,193.2 204.1,196.3 202.6,196.3 202.6,194.4 198.6,194.4 198.6,194.2 194.6,194.2 194.6,196.5 191.6,196.5 191.6,192.9 187.6,192.9 187.5,193.8 182.5,193.8 182.5,194.3 179.5,194.3 179.5,190.0 174.5,190.0 174.5,189.0 173.0,189.0 173.0,191.9 171.0,191.9 171.0,189.8 169.0,189.8" fill="#00ff00" stroke="#00ff00" stroke-width="1.2" stroke-linejoin="miter"/>
<polygon points="170.5,165.4 170.5,159.5 172.5,159.5 172.5,165.4" fill="#00ff00" stroke="#00ff00" stroke-width="1.2" stroke-linejoin="miter"/>
<polyline points="210.2,162.0 210.2,371.2" fill="none" stroke="#00ff00" stroke-width="4.5" stroke-linejoin="miter" stroke-miterlimit="2" stroke-linecap="butt"/>
<polyline points="208.0,371.2 221.0,371.2" fill="none" stroke="#00ff00" stroke-width="4" stroke-linejoin="miter" stroke-miterlimit="2" stroke-linecap="butt"/>
<polyline points="219.5,371.2 222.0,330.0 224.0,303.0" fill="none" stroke="#00ff00" stroke-width="4" stroke-linejoin="miter" stroke-miterlimit="2" stroke-linecap="butt"/>
<polygon points="224.0,289.5 236.0,289.5 236.0,303.0 224.0,303.0" fill="#00ff00" stroke="#00ff00" stroke-width="1.2" stroke-linejoin="miter"/>
<polyline points="236.5,326.0 236.5,262.0 239.0,245.0 240.0,232.0 241.0,215.0 242.0,195.0 243.5,170.0" fill="none" stroke="#00ff00" stroke-width="5" stroke-linejoin="miter" stroke-miterlimit="2" stroke-linecap="butt"/>
<polygon points="235.6,240.0 242.8,240.0 242.8,261.0 235.6,261.0" fill="#00ff00" stroke="#00ff00" stroke-width="1.2" stroke-linejoin="miter"/>
<polygon points="244.0,169.4 245.5,169.4 245.5,161.1 249.5,161.1 249.5,154.9 254.5,154.9 254.5,153.0 258.5,153.0 258.5,157.2 262.5,157.2 262.5,155.9 266.5,155.9 266.6,156.8 271.6,156.8 271.6,155.7 274.6,155.7 274.6,154.0 276.6,154.0 276.6,159.8 279.6,159.8 279.6,159.4 282.6,159.4 282.6,156.5 284.6,156.5 284.6,159.6 289.6,159.6 289.6,155.4 291.6,155.4 291.6,158.7 293.6,158.7 293.6,154.3 295.6,154.3 295.7,157.9 297.2,157.9 297.2,155.8 301.2,155.8 301.2,154.7 304.2,154.7 304.2,156.8 309.2,156.8 309.2,158.3 310.7,158.3 310.7,156.9 314.7,156.9 314.7,160.4 318.7,160.4 318.7,161.3 323.7,161.3 323.7,158.1 326.7,158.1 326.7,160.9 331.7,160.9 331.8,158.4 334.5,158.4 334.5,190.7 330.3,190.7 330.3,191.2 328.8,191.2 328.8,189.6 326.8,189.6 326.7,187.0 321.7,187.0 321.7,188.3 317.7,188.3 317.7,186.0 316.2,186.0 316.2,187.1 312.2,187.1 312.2,186.4 309.2,186.4 309.2,186.5 305.2,186.5 305.2,185.6 303.7,185.6 303.7,183.8 299.7,183.8 299.7,185.8 295.7,185.8 295.7,182.7 291.7,182.7 291.6,186.3 290.1,186.3 290.1,183.5 286.1,183.5 286.1,185.8 282.1,185.8 282.1,183.7 279.1,183.7 279.1,182.9 274.1,182.9 274.1,184.1 269.1,184.1 269.1,184.6 266.1,184.6 266.1,185.8 262.1,185.8 262.1,185.7 260.6,185.7 260.6,185.2 259.1,185.2 259.0,183.0 256.0,183.0 256.0,182.4 254.5,182.4 254.5,183.0 250.5,183.0 250.5,184.1 247.5,184.1 247.5,185.9 245.5,185.9 245.5,184.9 244.0,184.9" fill="#00ff00" stroke="#00ff00" stroke-width="1.2" stroke-linejoin="miter"/>
<polygon points="247.8,156.0 247.8,147.5 250.2,147.5 250.2,156.0" fill="#00ff00" stroke="#00ff00" stroke-width="1.2" stroke-linejoin="miter"/>
<polygon points="269.2,159.5 269.2,150.0 270.8,150.0 270.8,159.5" fill="#00ff00" stroke="#00ff00" stroke-width="1.2" stroke-linejoin="miter"/>
<polygon points="296.2,159.0 296.2,150.0 297.8,150.0 297.8,159.0" fill="#00ff00" stroke="#00ff00" stroke-width="1.2" stroke-linejoin="miter"/>
<polygon points="317.2,161.6 317.2,151.0 318.8,151.0 318.8,161.6" fill="#00ff00" stroke="#00ff00" stroke-width="1.2" stroke-linejoin="miter"/>
<polyline points="336.0,152.0 336.0,371.2" fill="none" stroke="#00ff00" stroke-width="4.8" stroke-linejoin="miter" stroke-miterlimit="2" stroke-linecap="butt"/>
<polyline points="334.0,371.2 350.0,371.2" fill="none" stroke="#00ff00" stroke-width="4" stroke-linejoin="miter" stroke-miterlimit="2" stroke-linecap="butt"/>
<polygon points="337.0,371.2 338.5,310.0 340.5,371.2" fill="#00ff00" stroke="#00ff00" stroke-width="1.2" stroke-linejoin="miter"/>
<polygon points="345.0,371.2 346.5,312.0 348.0,371.2" fill="#00ff00" stroke="#00ff00" stroke-width="1.2" stroke-linejoin="miter"/>
<polyline points="349.0,371.2 352.0,330.0 355.0,310.0 358.0,290.0 359.5,268.0 363.0,266.0 366.0,278.0 367.0,288.0 368.0,260.0 371.0,215.0 374.0,190.0 375.5,172.0" fill="none" stroke="#00ff00" stroke-width="4.5" stroke-linejoin="miter" stroke-miterlimit="2" stroke-linecap="butt"/>
<polygon points="357.0,268.0 364.0,264.0 364.0,287.0 358.0,287.0" fill="#00ff00" stroke="#00ff00" stroke-width="1.2" stroke-linejoin="miter"/>
<polygon points="374.0,168.8 375.5,168.8 375.5,172.5 378.5,172.5 378.5,169.1 380.5,169.1 380.5,173.6 383.5,173.6 383.5,171.5 386.5,171.5 386.5,173.1 390.5,173.1 390.6,174.7 392.6,174.7 392.6,176.2 397.6,176.2 397.6,172.4 399.1,172.4 399.1,171.5 403.1,171.5 403.1,167.5 405.1,167.5 405.1,158.5 407.1,158.5 407.1,157.4 408.6,157.4 408.6,156.4 413.6,156.4 413.6,159.4 415.6,159.4 415.6,131.0 417.6,131.0 417.7,132.4 421.7,132.4 421.7,121.3 423.7,121.3 423.7,118.5 427.7,118.5 427.7,112.9 429.7,112.9 429.7,111.4 434.7,111.4 434.7,109.5 439.7,109.5 439.7,116.3 441.7,116.3 441.7,116.4 444.7,116.4 444.7,118.0 446.7,118.0 446.7,115.5 448.7,115.5 448.8,118.9 450.8,118.9 450.8,123.6 451.5,123.6 451.5,148.8 449.2,148.8 449.2,146.9 446.2,146.9 446.2,148.4 443.2,148.4 443.2,147.7 439.2,147.7 439.2,149.0 436.2,149.0 436.2,152.5 433.2,152.5 433.2,153.1 428.2,153.1 428.2,163.1 426.2,163.1 426.2,165.7 424.7,165.7 424.7,164.2 421.7,164.2 421.6,163.5 420.1,163.5 420.1,184.4 417.1,184.4 417.1,185.6 412.1,185.6 412.1,183.9 410.6,183.9 410.6,186.9 406.6,186.9 406.6,188.4 404.6,188.4 404.6,194.7 399.6,194.7 399.6,197.2 395.6,197.2 395.6,199.8 393.6,199.8 393.6,197.7 391.6,197.7 391.5,199.5 388.5,199.5 388.5,201.2 383.5,201.2 383.5,201.7 381.5,201.7 381.5,202.7 379.5,202.7 379.5,202.9 378.0,202.9 378.0,211.0 374.0,211.0" fill="#00ff00" stroke="#00ff00" stroke-width="1.2" stroke-linejoin="miter"/>
<polygon points="402.0,167.2 402.0,133.7 405.0,133.7 405.0,167.2" fill="#00ff00" stroke="#00ff00" stroke-width="1.2" stroke-linejoin="miter"/>
<polyline points="453.0,123.0 453.0,371.2" fill="none" stroke="#00ff00" stroke-width="4.5" stroke-linejoin="miter" stroke-miterlimit="2" stroke-linecap="butt"/>
<polyline points="451.0,371.2 494.0,371.2" fill="none" stroke="#00ff00" stroke-width="4" stroke-linejoin="miter" stroke-miterlimit="2" stroke-linecap="butt"/>
<polygon points="453.0,371.2 453.0,318.0 455.0,316.0 458.0,316.0 458.5,371.2" fill="#00ff00" stroke="#00ff00" stroke-width="1.2" stroke-linejoin="miter"/>
<polygon points="466.0,371.2 467.5,309.7 470.0,309.7 471.0,331.7 474.5,331.7 476.0,371.2" fill="#00ff00" stroke="#00ff00" stroke-width="1.2" stroke-linejoin="miter"/>
<polygon points="488.0,371.2 490.0,316.0 493.0,316.0 494.0,371.2" fill="#00ff00" stroke="#00ff00" stroke-width="1.2" stroke-linejoin="miter"/>
<polyline points="493.5,371.2 496.0,330.0 499.0,290.0 502.0,258.0 505.0,225.0 507.5,195.0 510.0,175.0 512.0,160.0" fill="none" stroke="#00ff00" stroke-width="4.5" stroke-linejoin="miter" stroke-miterlimit="2" stroke-linecap="butt"/>
<polygon points="496.0,296.0 506.0,252.0 507.0,270.0 499.0,298.0" fill="#00ff00" stroke="#00ff00" stroke-width="1.2" stroke-linejoin="miter"/>
<polyline points="513.0,137.4 513.0,267.0" fill="none" stroke="#00ff00" stroke-width="4" stroke-linejoin="miter" stroke-miterlimit="2" stroke-linecap="butt"/>
<polygon points="515.0,167.2 517.0,167.2 517.0,168.7 518.5,168.7 518.5,163.3 522.5,163.3 522.5,165.2 527.5,165.2 527.5,165.0 529.5,165.0 529.5,161.4 531.0,161.4 531.1,161.0 535.1,161.0 535.1,160.4 536.6,160.4 536.6,164.3 540.6,164.3 540.6,160.0 543.6,160.0 543.6,161.6 548.6,161.6 548.6,159.2 550.6,159.2 550.6,160.9 552.6,160.9 552.6,164.8 557.6,164.8 557.6,161.0 559.1,161.0 559.1,157.9 564.1,157.9 564.2,158.8 565.7,158.8 565.7,162.8 568.7,162.8 568.7,165.0 573.7,165.0 573.7,162.1 575.2,162.1 575.2,159.1 577.2,159.1 577.2,160.2 582.2,160.2 582.2,164.4 584.2,164.4 584.2,160.3 585.7,160.3 585.7,160.4 587.7,160.4 587.7,166.7 591.7,166.7 591.8,166.8 594.8,166.8 594.8,170.6 598.8,170.6 598.8,167.2 600.8,167.2 600.8,173.9 601.0,173.9 601.0,194.0 599.8,194.0 599.8,193.1 596.8,193.1 596.8,194.3 591.8,194.3 591.8,193.2 590.3,193.2 590.2,190.8 586.2,190.8 586.2,190.1 582.2,190.1 582.2,196.4 580.7,196.4 580.7,189.3 576.7,189.3 576.7,187.6 573.7,187.6 573.7,190.4 572.2,190.4 572.2,189.1 569.2,189.1 569.2,191.6 567.7,191.6 567.7,189.0 565.7,189.0 565.7,191.9 563.7,191.9 563.6,193.4 560.6,193.4 560.6,191.4 559.1,191.4 559.1,187.7 554.1,187.7 554.1,185.3 549.1,185.3 549.1,187.6 544.1,187.6 544.1,184.1 541.1,184.1 541.1,185.6 539.1,185.6 539.1,186.0 535.1,186.0 535.1,187.5 532.1,187.5 532.1,188.4 529.1,188.4 529.0,188.5 527.0,188.5 527.0,188.2 525.5,188.2 525.5,191.0 521.5,191.0 521.5,191.3 520.0,191.3 520.0,190.3 517.0,190.3 517.0,193.8 515.0,193.8" fill="#00ff00" stroke="#00ff00" stroke-width="1.2" stroke-linejoin="miter"/>
<polygon points="570.8,164.0 570.8,141.8 573.2,141.8 573.2,164.0" fill="#00ff00" stroke="#00ff00" stroke-width="1.2" stroke-linejoin="miter"/>
<polygon points="544.2,164.0 544.2,155.0 545.8,155.0 545.8,164.0" fill="#00ff00" stroke="#00ff00" stroke-width="1.2" stroke-linejoin="miter"/>
<polygon points="519.2,167.0 519.2,158.0 520.8,158.0 520.8,167.0" fill="#00ff00" stroke="#00ff00" stroke-width="1.2" stroke-linejoin="miter"/>
<polygon points="554.2,163.5 554.2,154.0 555.8,154.0 555.8,163.5" fill="#00ff00" stroke="#00ff00" stroke-width="1.2" stroke-linejoin="miter"/>
<polyline points="603.0,170.0 603.0,371.2" fill="none" stroke="#00ff00" stroke-width="4.5" stroke-linejoin="miter" stroke-miterlimit="2" stroke-linecap="butt"/>
<polyline points="601.0,371.2 613.0,371.2" fill="none" stroke="#00ff00" stroke-width="4" stroke-linejoin="miter" stroke-miterlimit="2" stroke-linecap="butt"/>
<polyline points="611.0,371.2 614.0,320.0 617.0,290.0 622.0,270.0 626.0,240.0 629.0,215.0 632.0,180.0 634.0,148.0" fill="none" stroke="#00ff00" stroke-width="4.5" stroke-linejoin="miter" stroke-miterlimit="2" stroke-linecap="butt"/>
<polygon points="611.0,372.0 617.4,372.0 617.4,304.0 624.0,304.0 624.0,291.0 616.4,285.0 613.0,290.0" fill="#00ff00" stroke="#00ff00" stroke-width="1.2" stroke-linejoin="miter"/>
<polygon points="633.5,149.3 635.0,149.3 635.0,146.0 639.0,146.0 639.0,148.1 642.0,148.1 642.0,144.0 644.0,144.0 644.0,144.5 649.0,144.5 649.0,151.2 652.0,151.2 652.1,149.5 657.1,149.5 657.1,151.6 659.1,151.6 659.1,137.3 660.6,137.3 660.6,152.7 663.6,152.7 663.6,151.7 668.6,151.7 668.6,152.0 672.6,152.0 672.6,148.9 675.6,148.9 675.6,152.4 680.6,152.4 680.6,157.6 683.6,157.6 683.6,158.7 687.6,158.7 687.7,162.5 689.2,162.5 689.2,162.4 692.2,162.4 692.2,161.3 693.7,161.3 693.7,160.6 698.7,160.6 698.7,162.7 702.7,162.7 702.7,157.6 704.7,157.6 704.7,157.4 707.7,157.4 707.7,158.3 712.7,158.3 712.7,159.6 714.7,159.6 714.7,160.6 717.7,160.6 717.8,159.4 722.0,159.4 722.0,187.5 719.3,187.5 719.3,184.9 717.8,184.9 717.8,188.2 714.8,188.2 714.8,185.3 710.8,185.3 710.7,189.5 705.7,189.5 705.7,186.9 702.7,186.9 702.7,187.9 699.7,187.9 699.7,186.7 698.2,186.7 698.2,188.0 696.7,188.0 696.7,187.0 692.7,187.0 692.7,189.6 691.2,189.6 691.2,187.0 686.2,187.0 686.2,189.3 684.2,189.3 684.2,186.6 682.2,186.6 682.1,177.8 677.1,177.8 677.1,175.4 674.1,175.4 674.1,176.4 671.1,176.4 671.1,174.6 669.6,174.6 669.6,176.6 664.6,176.6 664.6,176.6 661.6,176.6 661.6,173.2 658.6,173.2 658.6,174.4 653.6,174.4 653.6,171.8 651.6,171.8 651.6,171.8 650.1,171.8 650.0,174.3 648.0,174.3 648.0,174.3 646.5,174.3 646.5,173.8 644.5,173.8 644.5,173.5 641.5,173.5 641.5,174.9 637.5,174.9 637.5,172.9 633.5,172.9" fill="#00ff00" stroke="#00ff00" stroke-width="1.2" stroke-linejoin="miter"/>
<polygon points="642.0,147.6 642.0,141.0 644.0,141.0 644.0,147.6" fill="#00ff00" stroke="#00ff00" stroke-width="1.2" stroke-linejoin="miter"/>
<polygon points="687.2,161.9 687.2,154.0 688.8,154.0 688.8,161.9" fill="#00ff00" stroke="#00ff00" stroke-width="1.2" stroke-linejoin="miter"/>
<polygon points="705.2,162.4 705.2,153.0 706.8,153.0 706.8,162.4" fill="#00ff00" stroke="#00ff00" stroke-width="1.2" stroke-linejoin="miter"/>
<polyline points="679.5,176.0 679.5,227.5" fill="none" stroke="#00ff00" stroke-width="4.5" stroke-linejoin="miter" stroke-miterlimit="2" stroke-linecap="butt"/>
<polyline points="723.0,156.0 723.0,371.2" fill="none" stroke="#00ff00" stroke-width="4.5" stroke-linejoin="miter" stroke-miterlimit="2" stroke-linecap="butt"/>
<polyline points="721.0,371.2 1032.0,371.2" fill="none" stroke="#00ff00" stroke-width="4" stroke-linejoin="miter" stroke-miterlimit="2" stroke-linecap="butt"/>
<polyline points="725.0,371.2 725.5,357.5 731.0,357.5 731.0,371.2" fill="none" stroke="#00ff00" stroke-width="3.5" stroke-linejoin="miter" stroke-miterlimit="2" stroke-linecap="butt"/>
<polyline points="1032.0,371.2 1032.0,187.0" fill="none" stroke="#00ff00" stroke-width="4.5" stroke-linejoin="miter" stroke-miterlimit="2" stroke-linecap="butt"/>
<polygon points="1034.0,206.0 1038.0,205.0 1040.0,210.0 1043.0,206.0 1043.0,224.0 1038.0,223.0 1034.0,224.0" fill="#00ff00" stroke="#00ff00" stroke-width="1.2" stroke-linejoin="miter"/>
<polyline points="1042.0,225.0 1042.0,147.4" fill="none" stroke="#00ff00" stroke-width="3.5" stroke-linejoin="miter" stroke-miterlimit="2" stroke-linecap="butt"/>
<polygon points="1043.0,152.4 1046.0,152.4 1046.0,153.0 1048.0,153.0 1048.0,154.6 1051.0,154.6 1051.0,153.2 1052.5,153.2 1052.5,158.5 1054.0,158.5 1054.0,158.7 1059.0,158.7 1059.1,153.7 1062.1,153.7 1062.1,152.0 1064.1,152.0 1064.1,127.1 1066.1,127.1 1066.1,116.7 1067.6,116.7 1067.6,117.6 1071.6,117.6 1071.6,126.4 1075.6,126.4 1075.6,125.7 1077.1,125.7 1077.1,127.0 1082.1,127.0 1082.1,125.8 1084.1,125.8 1084.1,127.0 1089.1,127.0 1089.2,131.1 1091.5,131.1 1091.5,159.1 1090.7,159.1 1090.7,159.4 1087.7,159.4 1087.6,156.6 1086.1,156.6 1086.1,156.7 1082.1,156.7 1082.1,157.0 1078.1,157.0 1078.1,154.5 1075.1,154.5 1075.1,153.7 1071.1,153.7 1071.1,156.5 1069.1,156.5 1069.1,168.4 1064.1,168.4 1064.1,179.3 1062.1,179.3 1062.1,182.5 1060.1,182.5 1060.1,179.5 1057.1,179.5 1057.0,177.1 1055.5,177.1 1055.5,179.5 1054.0,179.5 1054.0,178.6 1050.0,178.6 1050.0,179.9 1046.0,179.9 1046.0,181.8 1044.5,181.8 1044.5,178.4 1043.0,178.4" fill="#00ff00" stroke="#00ff00" stroke-width="1.2" stroke-linejoin="miter"/>
<polyline points="1093.0,128.0 1093.0,371.2" fill="none" stroke="#00ff00" stroke-width="4.5" stroke-linejoin="miter" stroke-miterlimit="2" stroke-linecap="butt"/>
<polyline points="1091.0,371.2 1100.0,371.2" fill="none" stroke="#00ff00" stroke-width="4" stroke-linejoin="miter" stroke-miterlimit="2" stroke-linecap="butt"/>

<ellipse cx="557.45" cy="366.2" rx="76.05" ry="19.4" fill="none" stroke="#000" stroke-width="3.9" stroke-dasharray="9.3 3.8"/>
<ellipse cx="835.7" cy="366.2" rx="62.9" ry="18.9" fill="none" stroke="#000" stroke-width="3.9" stroke-dasharray="9.3 3.8"/>
<ellipse cx="986.4" cy="366.3" rx="51.6" ry="19.8" fill="none" stroke="#000" stroke-width="3.9" stroke-dasharray="9.3 3.8"/>
<text x="484.9" y="407.8" class="an">Abnormal 3: penetration</text>
<text x="484.9" y="426.5" class="an">rate is closed to 0</text>
<text x="754.9" y="406.5" class="an">Abnormal 2: revolution</text>
<text x="754.9" y="424.7" class="an">pre minute is negative</text>
<text x="943.8" y="407.9" class="an">Abnormal 1: torque</text>
<text x="943.8" y="426.5" class="an">is closed to 0</text>

<polyline points="110.5,228.0 113.7,227.8 116.8,227.5 120.0,227.0 123.3,227.9 126.7,227.0 130.0,228.0 133.3,228.8 136.7,228.2 140.0,228.0 143.3,228.0 146.7,228.8 150.0,228.5 153.3,228.3 156.7,229.6 160.0,229.0 165.0,229.0 167.0,229.0 168.0,234.6 172.0,235.7 176.0,235.7 177.0,232.0 179.0,235.7 182.2,235.8 185.3,235.5 188.5,236.1 191.7,235.6 194.8,235.2 198.0,235.7 199.0,232.4 203.0,232.1 207.0,231.0 211.0,229.0 214.0,227.9 217.0,228.8 220.0,228.0 223.0,227.5 226.0,228.0 229.0,228.5 232.0,227.6 235.3,227.6 238.7,227.7 242.0,227.3 245.7,227.6 249.3,227.8 253.0,229.2 256.7,228.1 260.3,227.8 264.0,228.0 267.1,228.2 270.3,227.9 273.4,228.0 276.6,228.6 279.7,227.4 282.9,227.6 286.0,228.0 289.1,228.2 292.3,227.2 295.4,227.2 298.6,227.8 301.7,227.4 304.9,227.8 308.0,228.0 311.1,227.7 314.3,228.5 317.4,228.7 320.6,228.2 323.7,229.1 326.9,229.0 330.0,229.2 333.3,228.8 336.7,230.2 340.0,229.7 343.0,229.3 346.0,229.1 349.0,229.1 352.0,229.7 355.7,230.7 359.3,231.8 363.0,231.9 366.7,231.3 370.3,229.5 374.0,228.6 377.1,228.2 380.3,227.8 383.4,228.8 386.6,228.7 389.7,228.4 392.9,228.8 396.0,228.6 400.5,233.0 404.0,233.1 407.5,234.1 411.0,234.0 414.5,233.4 418.0,234.0 421.7,233.9 425.3,231.9 429.0,231.9 432.7,231.2 436.3,230.3 440.0,229.7 443.7,230.0 447.3,230.5 451.0,231.9 454.7,230.5 458.3,227.5 462.0,226.4 465.7,225.3 469.3,224.8 473.0,223.0 476.7,222.8 480.3,223.3 484.0,224.2 487.7,225.5 491.3,226.4 495.0,227.5 498.7,228.1 502.3,228.7 506.0,228.6 509.7,228.8 513.3,229.8 517.0,230.8 520.7,229.4 524.3,227.9 528.0,227.5 531.7,228.1 535.3,228.0 539.0,227.5 543.7,234.0 547.0,233.3 550.4,231.9 554.8,237.4 558.1,234.9 561.4,234.0 565.1,235.3 568.7,235.9 572.4,236.3 576.1,235.5 579.7,235.2 583.4,234.0 586.7,235.4 590.0,237.0 595.0,229.7 598.5,229.3 602.0,229.7 605.1,228.9 608.3,229.0 611.4,228.5 614.6,228.8 617.7,229.3 620.9,229.1 624.0,228.6 627.1,229.0 630.3,228.6 633.4,227.8 636.6,228.1 639.7,227.7 642.9,228.1 646.0,227.5 649.7,228.3 653.3,228.6 657.0,229.7 659.3,233.0 663.6,233.2 668.0,233.0 672.5,236.3 675.8,235.4 679.0,233.0 682.7,233.6 686.3,235.8 690.0,236.3 693.4,236.6 696.8,238.5 700.1,235.9 703.4,234.0 707.8,233.1 712.2,233.0 716.0,232.8 719.7,231.8 724.0,229.6 727.7,229.2 731.3,227.8 735.0,226.3 738.1,225.6 741.2,226.0 744.3,224.6 747.4,224.0 750.5,224.0 754.0,224.9 757.5,224.7 761.0,225.0 764.5,225.2 768.0,225.2 771.1,226.0 774.3,225.2 777.4,225.7 780.6,225.5 783.7,225.8 786.9,225.1 790.0,225.2 793.6,225.6 797.2,225.3 800.8,224.9 804.4,225.2 804.4,378.3 864.5,378.3 864.5,225.2 867.6,224.7 870.7,225.3 873.8,224.4 876.9,225.7 880.0,225.0 883.3,224.5 886.6,224.3 889.9,224.5 893.1,225.8 896.4,224.9 899.7,224.6 903.0,225.2 905.0,227.4 908.7,226.6 912.3,226.7 916.0,227.4 919.2,227.7 922.4,227.6 925.7,227.7 928.9,227.8 932.1,226.7 935.3,227.5 938.6,227.2 941.8,227.9 945.0,227.4 946.0,232.5 950.0,233.0 954.0,232.5 955.0,227.4 958.2,228.5 961.4,227.6 964.6,229.3 967.8,229.8 971.0,229.6 974.7,230.7 978.3,229.7 982.0,230.7 985.1,230.2 988.3,230.1 991.4,230.0 994.6,231.3 997.7,231.2 1000.9,230.9 1004.0,230.7 1007.1,230.9 1010.3,230.3 1013.4,229.4 1016.6,228.8 1019.7,228.5 1022.9,229.2 1026.0,228.5 1029.1,227.9 1032.3,227.9 1035.4,227.9 1038.6,227.1 1041.7,227.3 1044.9,227.2 1048.0,227.4 1051.1,227.7 1054.3,227.2 1057.4,227.1 1060.6,228.1 1063.7,227.4 1066.9,228.0 1070.0,227.4 1073.0,227.6 1076.0,226.6 1079.0,227.3 1082.0,227.3 1085.0,227.8 1088.0,227.2 1091.0,227.7 1094.0,227.5 1097.0,226.9 1100.0,227.4" fill="none" stroke="#f70000" stroke-width="4.2" stroke-linejoin="miter" stroke-miterlimit="2" stroke-linecap="butt"/>

<line x1="187.5" y1="48.1" x2="233.5" y2="48.1" stroke="#00ff00" stroke-width="5" stroke-linecap="round"/>
<line x1="187.5" y1="92.2" x2="233.5" y2="92.2" stroke="#0000ff" stroke-width="5" stroke-linecap="round"/>
<line x1="602.5" y1="48.4" x2="648" y2="48.4" stroke="#808080" stroke-width="5" stroke-linecap="round"/>
<line x1="602.5" y1="92.4" x2="648" y2="92.4" stroke="#f70000" stroke-width="5" stroke-linecap="round"/>
<text x="263" y="59.3" class="lg">Torque/2000 (kN·m)</text>
<text x="263" y="102.8" class="lg">Thrust/20000 (kN)</text>
<text x="674" y="59.3" class="lg" style="font-size:34.85px">Penetration rate/50 (mm/M)</text>
<text x="674" y="102.8" class="lg" style="font-size:34.85px">Revolution per minute/10 (rpm)</text>

<text x="105" y="27.1" text-anchor="end" class="tk">2.0</text>
<text x="105" y="98.2" text-anchor="end" class="tk">1.6</text>
<text x="105" y="169.3" text-anchor="end" class="tk">1.2</text>
<text x="105" y="240.4" text-anchor="end" class="tk">0.8</text>
<text x="105" y="311.5" text-anchor="end" class="tk">0.4</text>
<text x="105" y="382.6" text-anchor="end" class="tk">0.0</text>
<text x="105" y="453.7" text-anchor="end" class="tk">-0.4</text>

<text x="111.8" y="478.6" text-anchor="middle" class="tk">0</text>
<text x="367.1" y="482" text-anchor="middle" class="tk">1<tspan class="tm">×</tspan>10<tspan class="sup" dy="-12.3">4</tspan></text>
<text x="622.9" y="482" text-anchor="middle" class="tk">2<tspan class="tm">×</tspan>10<tspan class="sup" dy="-12.3">4</tspan></text>
<text x="878.8" y="482" text-anchor="middle" class="tk">3<tspan class="tm">×</tspan>10<tspan class="sup" dy="-12.3">4</tspan></text>
<text x="1134.6" y="482" text-anchor="middle" class="tk">4<tspan class="tm">×</tspan>10<tspan class="sup" dy="-12.3">4</tspan></text>


<text x="624" y="534.7" text-anchor="middle" class="ti">Time (s)</text>
<text transform="translate(33,228.8) rotate(-90)" text-anchor="middle" class="ti">Value</text>

</svg>
</body></html>
